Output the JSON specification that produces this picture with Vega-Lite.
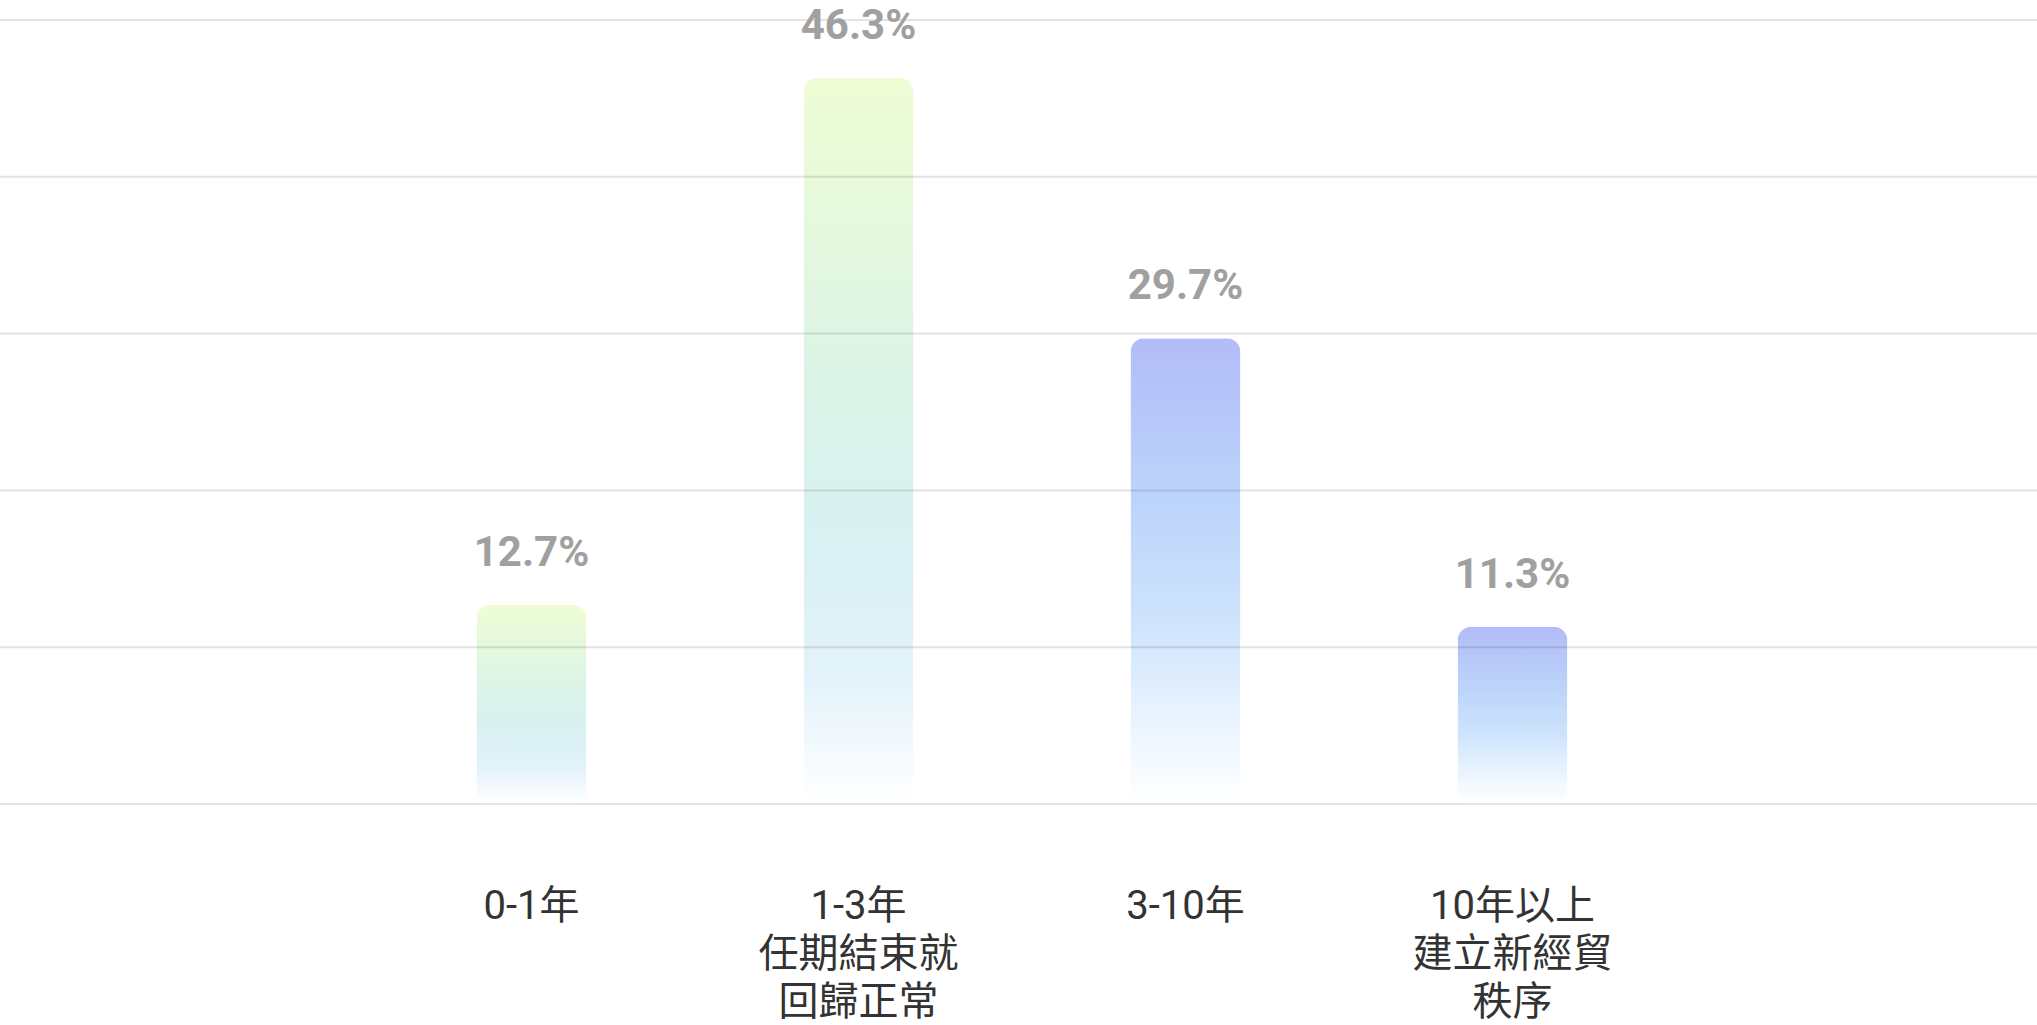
{
  "$schema": "https://vega.github.io/schema/vega-lite/v6.json",
  "autosize": {"type": "none"},
  "width": 2037,
  "height": 784,
  "padding": {"left": 0, "top": 20, "right": 0, "bottom": 221},
  "background": "#ffffff",
  "datasets": {
    "shares": [
      {"period": "0-1年", "share": 0.127},
      {"period": "1-3年\n任期結束就\n回歸正常", "share": 0.463},
      {"period": "3-10年", "share": 0.297},
      {"period": "10年以上\n建立新經貿\n秩序", "share": 0.113}
    ],
    "grid": [
      {"share": 0}, {"share": 0.1}, {"share": 0.2},
      {"share": 0.3}, {"share": 0.4}, {"share": 0.5}
    ]
  },
  "data": {"name": "shares"},
  "layer": [
    {
      "mark": {"type": "bar", "width": 110, "cornerRadius": 14, "y2Offset": -10},
      "encoding": {
        "x": {
          "field": "period",
          "type": "nominal",
          "sort": null,
          "title": null,
          "scale": {"range": [368, 1676], "paddingInner": 0, "paddingOuter": 0},
          "axis": {
            "domain": false,
            "ticks": false,
            "grid": false,
            "labelAngle": 0,
            "labelPadding": 82,
            "labelLimit": 0,
            "labelFont": "Roboto, 'Noto Sans CJK TC'",
            "labelFontSize": 40,
            "labelLineHeight": 48,
            "labelColor": "#333333",
            "labelExpr": "split(datum.label, '\\n')"
          }
        },
        "y": {
          "field": "share",
          "type": "quantitative",
          "title": null,
          "scale": {"domain": [0, 0.5], "nice": false},
          "axis": null
        },
        "color": {
          "condition": {
            "test": "indexof(datum.period, '0-1') == 0 || indexof(datum.period, '1-3') == 0",
            "value": {
              "gradient": "linear",
              "x1": 0, "y1": 0, "x2": 0, "y2": 1,
              "stops": [
                {"offset": 0, "color": "#eefdd4"},
                {"offset": 0.4, "color": "#dcf4e6"},
                {"offset": 0.62, "color": "#d8f1f1"},
                {"offset": 0.82, "color": "#e2f2fa"},
                {"offset": 1, "color": "#ffffff"}
              ]
            }
          },
          "value": {
            "gradient": "linear",
            "x1": 0, "y1": 0, "x2": 0, "y2": 1,
            "stops": [
              {"offset": 0, "color": "#b2bcf8"},
              {"offset": 0.35, "color": "#bcd4fa"},
              {"offset": 0.6, "color": "#cde3fc"},
              {"offset": 0.85, "color": "#edf6ff"},
              {"offset": 1, "color": "#ffffff"}
            ]
          }
        }
      }
    },
    {
      "data": {"name": "grid"},
      "mark": {"type": "rule", "color": "#000000", "opacity": 0.11, "strokeWidth": 2},
      "encoding": {
        "y": {"field": "share", "type": "quantitative"}
      }
    },
    {
      "mark": {
        "type": "text",
        "dy": -39,
        "baseline": "alphabetic",
        "font": "Roboto",
        "fontSize": 42,
        "fontWeight": "bold"
      },
      "encoding": {
        "x": {"field": "period", "type": "nominal", "sort": null},
        "y": {"field": "share", "type": "quantitative"},
        "text": {"field": "share", "type": "quantitative", "format": ".1%"},
        "color": {"value": "#a0a0a0"}
      }
    }
  ],
  "config": {
    "view": {"stroke": null}
  }
}
